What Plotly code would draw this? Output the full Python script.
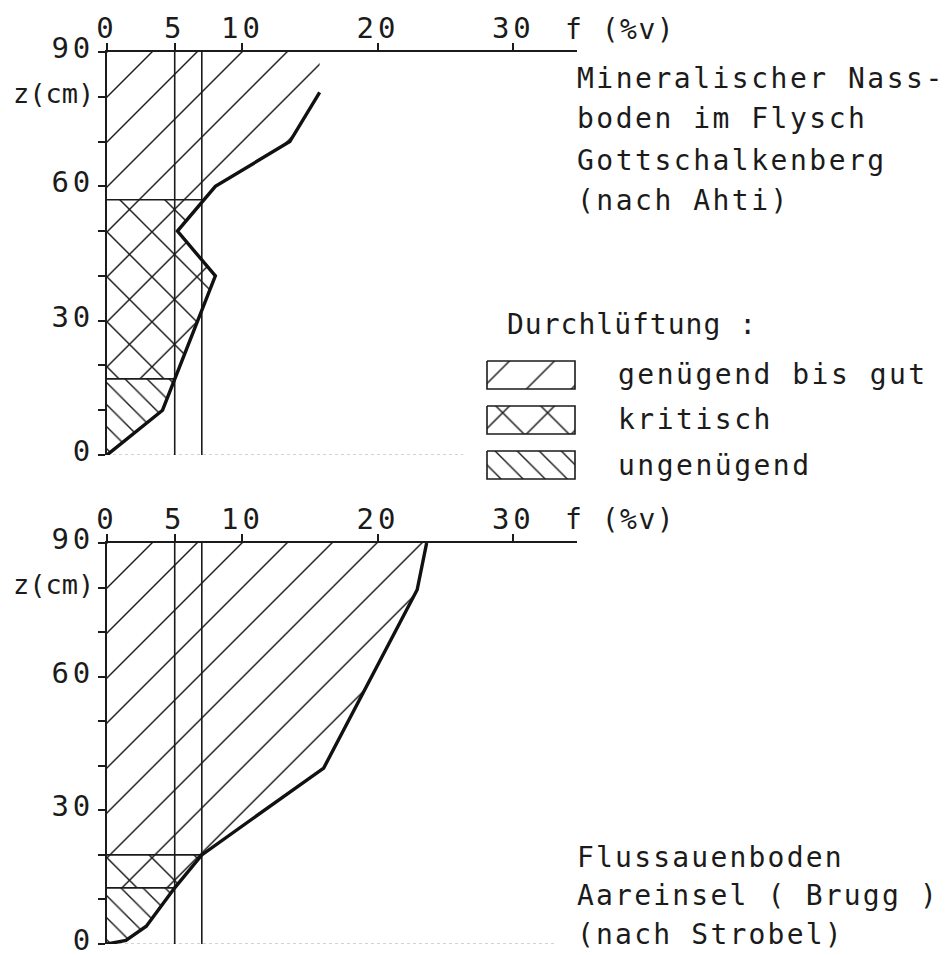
import numpy as np
import plotly.graph_objects as go

# target screenshot size; the html body offsets the figure by 8px
W, H = 952, 955
OFF = 8
FW, FH = W - OFF, H - OFF
FONT = "DejaVu Sans Mono"
INK = "#1b1b1b"

# air content f (% vol) on x, depth z (cm) on y
F_TICKS = [0, 5, 10, 20, 30]
F_TICKTEXT = ["0", "5", "10", "20", "30"]
Z_TICKS = [0, 30, 60, 80, 90]
Z_TICKTEXT = ["0", "30", "60", "z(cm)", "90"]
F_LIMITS = [5, 7]            # vertical reference lines
X_RANGE = [0, 34.7]

# Mineralischer Nassboden im Flysch, Gottschalkenberg (nach Ahti)
TOP_F = [0, 4.1, 8.0, 5.2, 8.0, 13.5, 15.7]
TOP_Z = [0, 10, 40, 50, 60, 70, 81]
TOP_BOUNDS = [17, 57]        # ungenügend | kritisch | genügend bis gut
TOP_BASE = 26.3

# Flussauenboden Aareinsel (Brugg) (nach Strobel)
BOT_F = [0, 1.4, 2.9, 5.0, 7.0, 16.0, 22.9, 23.6]
BOT_Z = [0, 0.8, 4, 12.6, 20, 39.5, 79.5, 90]
BOT_BOUNDS = [12.6, 20]
BOT_BASE = 33

CLASSES = ["genügend bis gut", "kritisch", "ungenügend"]
PATTERNS = {
    "genügend bis gut": dict(shape="/", size=31.8, solidity=0.045),
    "kritisch": dict(shape="x", size=31.8, solidity=0.09),
    "ungenügend": dict(shape="\\", size=15.6, solidity=0.09),
}

# screen-pixel geometry of the two panels (left, right, top, bottom)
PANELS = [
    dict(f=TOP_F, z=TOP_Z, bounds=TOP_BOUNDS, base=TOP_BASE, px=(107, 577, 52, 455)),
    dict(f=BOT_F, z=BOT_Z, bounds=BOT_BOUNDS, base=BOT_BASE, px=(107, 577, 543, 944)),
]


def ppx(x):
    return (x - OFF) / FW


def ppy(y):
    return 1 - (y - OFF) / FH


def sp(text, ls):
    return f'<span style="letter-spacing:{ls}px">{text}</span>'


def region(fs, zs, z0, z1):
    fz = lambda z: float(np.interp(z, zs, fs))
    pts = [(fz(z0), z0)] + [(f, z) for f, z in zip(fs, zs) if z0 < z < z1]
    pts += [(fz(z1), z1), (0, z1), (0, z0)]
    x, y = zip(*pts)
    return list(x), list(y)


def pattern(cls):
    return dict(fgcolor=INK, bgcolor="white", fillmode="replace", **PATTERNS[cls])


def label(text, x, y, ls=2.5, size=28):
    fig.add_annotation(
        text=sp(text, ls), x=ppx(x), y=ppy(y), xref="paper", yref="paper",
        xanchor="left", yanchor="middle", showarrow=False,
        font=dict(family=FONT, size=size, color=INK))


def ztick(t_):
    if t_.startswith("z"):
        return f'<span style="font-size:27px">{t_}</span>'
    return sp(t_, 4)


fig = go.Figure()
axis_font = dict(family=FONT, size=29, color=INK)

for i, p in enumerate(PANELS):
    xa, ya = ("x", "y") if i == 0 else ("x2", "y2")
    fs, zs = p["f"], p["z"]
    b0, b1 = p["bounds"]
    spans = {"ungenügend": (0, b0), "kritisch": (b0, b1), "genügend bis gut": (b1, 90)}
    for cls in CLASSES:
        x, y = region(fs, zs, *spans[cls])
        fig.add_trace(go.Scatter(
            x=x, y=y, mode="lines", fill="toself", fillcolor="white",
            fillpattern=pattern(cls),
            line=dict(width=0, color="rgba(0,0,0,0)"),
            xaxis=xa, yaxis=ya, showlegend=False, hoverinfo="skip"))

    # faint baseline
    fig.add_trace(go.Scatter(
        x=[0, p["base"]], y=[0, 0], mode="lines",
        line=dict(color="#a8a8a8", width=1.2, dash="dot"),
        xaxis=xa, yaxis=ya, showlegend=False, hoverinfo="skip"))

    # threshold verticals and class boundaries
    vx, vy = [], []
    for fl in F_LIMITS:
        vx += [fl, fl, None]
        vy += [0, 90, None]
    for b in p["bounds"]:
        vx += [0, float(np.interp(b, zs, fs)), None]
        vy += [b, b, None]
    fig.add_trace(go.Scatter(
        x=vx, y=vy, mode="lines", line=dict(color=INK, width=1.6),
        xaxis=xa, yaxis=ya, showlegend=False, hoverinfo="skip"))

    # measured profile
    fig.add_trace(go.Scatter(
        x=fs, y=zs, mode="lines", line=dict(color="#111111", width=3.4),
        xaxis=xa, yaxis=ya, showlegend=False,
        hovertemplate="f = %{x} %%v<br>z = %{y} cm<extra></extra>"))

    l, r, t, b = p["px"]
    sfx = "" if i == 0 else "2"
    fig.update_layout(**{
        "xaxis" + sfx: dict(
            domain=[ppx(l), ppx(r)], range=X_RANGE, side="top", anchor="y" + sfx,
            automargin=False, showline=True, linecolor=INK, linewidth=1.8,
            ticks="outside", ticklen=7, tickwidth=1.5, tickcolor=INK,
            tickvals=F_TICKS, ticktext=[sp(t_, 4) for t_ in F_TICKTEXT],
            tickfont=axis_font, ticklabelstandoff=-6, ticklabeloverflow="allow",
            showgrid=False, zeroline=False),
        "yaxis" + sfx: dict(
            domain=[ppy(b), ppy(t)], range=[0, 90], anchor="x" + sfx,
            automargin=False, showline=True, linecolor=INK, linewidth=1.8,
            ticks="outside", ticklen=7, tickwidth=1.5, tickcolor=INK,
            tickvals=Z_TICKS, ticktext=[ztick(t_) for t_ in Z_TICKTEXT],
            tickfont=axis_font, ticklabelstandoff=-2, ticklabelshift=-4,
            ticklabeloverflow="allow",
            minor=dict(dtick=10, tick0=0, ticks="outside", ticklen=7,
                       tickwidth=1.5, tickcolor=INK),
            showgrid=False, zeroline=False),
    })
    label("f (%v)", 563, t - 23, ls=1.5)

# legend boxes drawn on a screen-pixel overlay axis
LEG_X = (487, 575)
LEG_ROWS = [375, 420, 465]
LEG_H = 28
for cls, yc in zip(CLASSES, LEG_ROWS):
    x0, x1 = LEG_X
    y0, y1 = yc - LEG_H / 2, yc + LEG_H / 2
    fig.add_trace(go.Scatter(
        x=[x0, x1, x1, x0, x0], y=[y0, y0, y1, y1, y0], mode="lines",
        fill="toself", fillcolor="white", fillpattern=pattern(cls),
        line=dict(color=INK, width=1.6), xaxis="x3", yaxis="y3",
        showlegend=False, hoverinfo="skip"))
    label(cls, 616, yc)

label("Durchlüftung :", 505, 325, ls=1)

TITLE_TOP = ["Mineralischer Nass-", "boden im Flysch", "Gottschalkenberg", "(nach Ahti)"]
TITLE_BOT = ["Flussauenboden", "Aareinsel ( Brugg )", "(nach Strobel)"]
for k, line in enumerate(TITLE_TOP):
    label(line, 575, 78 + 41 * k)
for k, line in enumerate(TITLE_BOT):
    label(line, 575, 857 + 38.5 * k, ls=2.2)

fig.update_layout(
    width=FW, height=FH,
    margin=dict(l=0, r=0, t=0, b=0),
    paper_bgcolor="white", plot_bgcolor="rgba(0,0,0,0)",
    font=dict(family=FONT, color=INK),
    showlegend=False,
    xaxis3=dict(domain=[0, 1], range=[OFF, OFF + FW], visible=False, anchor="y3",
                automargin=False),
    yaxis3=dict(domain=[0, 1], range=[OFF + FH, OFF], visible=False, anchor="x3",
                automargin=False),
)

fig.write_html("out.html")
